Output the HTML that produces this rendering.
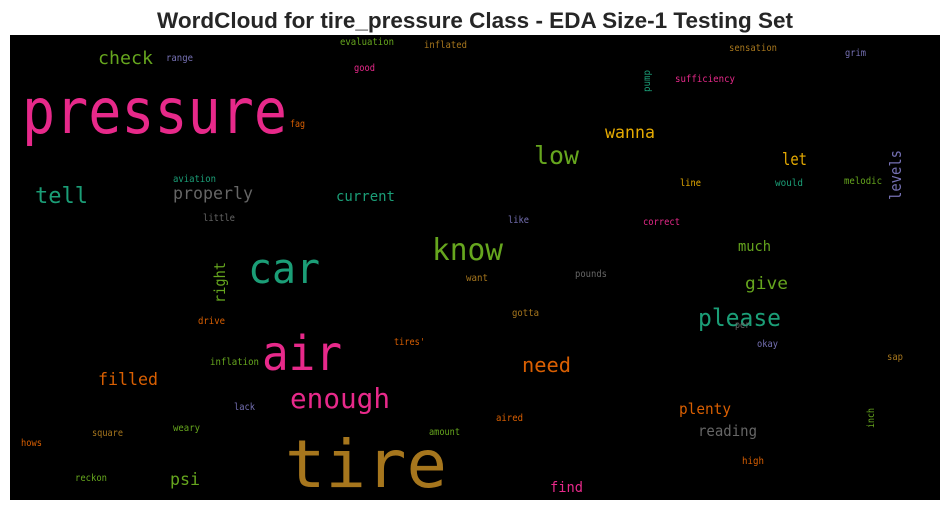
<!DOCTYPE html>
<html><head><meta charset="utf-8"><style>
html,body{margin:0;padding:0;background:#fff;width:950px;height:511px;overflow:hidden}
svg{display:block}
</style></head><body>
<svg id="chart" width="950" height="511" xmlns="http://www.w3.org/2000/svg">
<text x="475" y="28" text-anchor="middle" font-family="Liberation Sans, sans-serif" font-weight="bold" font-size="22.5" fill="#262626">WordCloud for tire_pressure Class - EDA Size-1 Testing Set</text>
<rect x="10" y="35" width="930" height="465" fill="#000"/>
<g id="words"></g>
</svg>
<script>
const words = ["pressure","tire","air","car","know","enough","please","low","tell","check","properly","current","wanna","let","levels","much","give","need","plenty","reading","filled","psi","find","right","evaluation","inflated","range","good","fag","aviation","little","sensation","grim","pump","sufficiency","line","would","melodic","like","correct","pounds","want","gotta","per","okay","drive","tires'","inflation","sap","lack","aired","amount","weary","square","hows","inch","high","reckon"];
const wx = [22,285,262,248,432,290,698,534,35,98,173,336,605,782,901,738,745,522,679,698,98,170,550,225,340,424,166,354,290,173,203,729,845,650,675,680,775,844,508,643,575,466,512,735,757,198,394,210,887,234,496,429,173,92,21,874,742,75];
const wy = [133,487,370,283,260,408,326,164,203,64,199,201,138,165,200,251,289,372,414,436,385,485,492,303,45,48,61,71,127,182,221,51,56,92,82,186,186,184,223,225,277,281,316,328,347,324,345,365,360,410,421,435,431,436,446,428,464,481];
const ww = [265,162,80,72,71,100,83,45,53,55,80,59,50,25,50,33,43,49,52,59,60,30,33,41,54,43,27,21,15,43,32,48,21,22,60,21,28,38,21,37,32,22,27,15,21,27,31,49,16,21,27,31,27,31,21,20,22,32];
const wsize = [62,66,48,42,30,28,24,25,22,18,17,14,17,17,16,14,17,20,15,15,17,17,14,15,9.5,9.5,9.5,9.5,9.5,9.5,9.5,9.5,9.5,9.5,10,9.5,9.5,9.5,9.5,9.5,9.5,9.5,9.5,9.5,9.5,9.5,9.5,9.5,9.5,9.5,9.5,9.5,9.5,9.5,9.5,9.5,9.5,9.5];
const wcolor = ["#e7298a","#a6761d","#e7298a","#1b9e77","#66a61e","#e7298a","#1b9e77","#66a61e","#1b9e77","#66a61e","#666666","#1b9e77","#e6ab02","#e6ab02","#7570b3","#66a61e","#66a61e","#d95f02","#d95f02","#666666","#d95f02","#66a61e","#e7298a","#66a61e","#66a61e","#a6761d","#7570b3","#e7298a","#d95f02","#1b9e77","#666666","#a6761d","#7570b3","#1b9e77","#e7298a","#e6ab02","#1b9e77","#66a61e","#7570b3","#e7298a","#666666","#a6761d","#a6761d","#666666","#7570b3","#d95f02","#d95f02","#66a61e","#a6761d","#7570b3","#d95f02","#66a61e","#66a61e","#a6761d","#d95f02","#66a61e","#d95f02","#66a61e"];
const wrot = [0,0,0,0,0,0,0,0,0,0,0,0,0,0,1,0,0,0,0,0,0,0,0,1,0,0,0,0,0,0,0,0,0,1,0,0,0,0,0,0,0,0,0,0,0,0,0,0,0,0,0,0,0,0,0,1,0,0];
const g = document.getElementById('words');
const NS = "http://www.w3.org/2000/svg";
for (let i = 0; i < words.length; i++) {
  const t = document.createElementNS(NS, 'text');
  
  
  t.setAttribute('font-family', 'DejaVu Sans Mono, Liberation Mono, monospace');
  t.setAttribute('font-size', wsize[i]);
  t.setAttribute('fill', wcolor[i]);
  t.setAttribute('textLength', ww[i]);
  t.setAttribute('lengthAdjust', 'spacingAndGlyphs');
  if (wrot[i]) {
    t.setAttribute('x', 0);
    t.setAttribute('y', 0);
    t.setAttribute('transform', 'translate(' + wx[i] + ',' + wy[i] + ') rotate(-90)');
  } else {
    t.setAttribute('x', wx[i]);
    t.setAttribute('y', wy[i]);
  }
  t.textContent = words[i];
  g.appendChild(t);
}
</script>
</body></html>
